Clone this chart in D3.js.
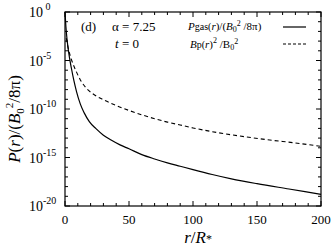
<!DOCTYPE html>
<html><head><meta charset="utf-8">
<script src="https://cdn.jsdelivr.net/npm/d3@7"></script>
<style>body{margin:0;background:#fff}svg{display:block}text{font-family:"Liberation Serif","Times New Roman",serif;fill:#000}</style>
</head><body>
<svg id="c" width="336" height="252"></svg>
<script>
// Data (log10 of values)
const gasR     = [0, 0.7, 1.5, 2.5, 3.5, 5, 7, 9, 12, 15, 19, 24, 30, 36, 43, 50, 60, 70, 80, 90, 100, 115, 130, 150, 175, 200];
const gasLog10 = [0, -1.5, -2.7, -3.8, -4.7, -5.8, -7.1, -8.2, -9.5, -10.4, -11.3, -12.0, -12.7, -13.2, -13.7, -14.1, -14.7, -15.15, -15.55, -15.9, -16.25, -16.75, -17.2, -17.7, -18.25, -18.8];
const bpR      = [1, 2, 3, 5, 7, 9, 12, 17, 22, 30, 40, 50, 60, 70, 80, 90, 100, 120, 140, 160, 180, 200];
const bpLog10  = [-2.7, -3.4, -4.0, -4.9, -5.6, -6.2, -7.0, -7.9, -8.45, -9.05, -9.65, -10.15, -10.6, -11.0, -11.35, -11.65, -11.95, -12.45, -12.85, -13.2, -13.5, -13.85];
const xTicks = [0, 50, 100, 150, 200];
const yTickExp = [0, -5, -10, -15, -20];

const svg = d3.select("#c");
const L = 65, R = 321, T = 12, B = 206;
const x = d3.scaleLinear().domain([0, 200]).range([L, R]);
const y = d3.scaleLog().domain([1e-20, 1]).range([B, T]);

// axes ticks
const g = svg.append("g").attr("stroke", "#000").attr("stroke-width", 1);
d3.range(0, 201, 10).forEach(v => {
  const len = xTicks.includes(v) ? 5 : 3;
  g.append("line").attr("x1", x(v)).attr("x2", x(v)).attr("y1", B).attr("y2", B - len);
  g.append("line").attr("x1", x(v)).attr("x2", x(v)).attr("y1", T).attr("y2", T + len);
});
d3.range(0, -21, -1).forEach(e => {
  const len = yTickExp.includes(e) ? 5 : 3;
  const yy = y(Math.pow(10, e));
  g.append("line").attr("x1", L).attr("x2", L + len).attr("y1", yy).attr("y2", yy);
  g.append("line").attr("x1", R).attr("x2", R - len).attr("y1", yy).attr("y2", yy);
});
svg.append("rect").attr("x", L).attr("y", T).attr("width", R - L).attr("height", B - T)
  .attr("fill", "none").attr("stroke", "#000").attr("stroke-width", 1.2);

// tick labels
xTicks.forEach(v => {
  svg.append("text").attr("x", x(v)).attr("y", 224).attr("text-anchor", "middle")
    .attr("font-size", 13).text(v);
});
yTickExp.forEach(e => {
  const yy = y(Math.pow(10, e));
  const t = svg.append("text").attr("x", 29).attr("y", yy + 5).attr("font-size", 14);
  t.append("tspan").text("10");
  t.append("tspan").attr("dy", -7).attr("font-size", 10).text(e === 0 ? "\u00a00" : e);
});

// axis titles
const xt = svg.append("text").attr("x", 198).attr("y", 243).attr("text-anchor", "middle").attr("font-size", 17);
xt.append("tspan").attr("font-style", "italic").text("r");
xt.append("tspan").text("/");
xt.append("tspan").attr("font-style", "italic").text("R");
xt.append("tspan").attr("font-size", 12).text("*");

const yt = svg.append("text").attr("transform", "translate(20,119) rotate(-90)")
  .attr("text-anchor", "middle").attr("font-size", 17);
yt.append("tspan").attr("font-style", "italic").text("P");
yt.append("tspan").text("(");
yt.append("tspan").attr("font-style", "italic").text("r");
yt.append("tspan").text(")/(");
yt.append("tspan").attr("font-style", "italic").text("B");
yt.append("tspan").attr("font-size", 11).attr("dy", 4).text("0");
yt.append("tspan").attr("font-size", 11).attr("dy", -11).text("2");
yt.append("tspan").attr("dy", 7).text("/8\u03c0)");

// curves
const line = d3.line().x(d => x(d[0])).y(d => y(Math.pow(10, d[1]))).curve(d3.curveMonotoneX);
svg.append("path").datum(gasR.map((r, i) => [r, gasLog10[i]]))
  .attr("d", line).attr("fill", "none").attr("stroke", "#000").attr("stroke-width", 1.2);
svg.append("path").datum(bpR.map((r, i) => [r, bpLog10[i]]))
  .attr("d", line).attr("fill", "none").attr("stroke", "#000").attr("stroke-width", 1.1)
  .attr("stroke-dasharray", "4,3");

// annotations
svg.append("text").attr("x", 81).attr("y", 31).attr("font-size", 13).text("(d)");
svg.append("text").attr("x", 112).attr("y", 31).attr("font-size", 13).text("\u03b1 = 7.25");
const tt = svg.append("text").attr("x", 115).attr("y", 48).attr("font-size", 13);
tt.append("tspan").attr("font-style", "italic").text("t");
tt.append("tspan").text(" = 0");

// legend
const l1 = svg.append("text").attr("x", 188).attr("y", 30).attr("font-size", 11);
l1.append("tspan").attr("font-style", "italic").text("P");
l1.append("tspan").attr("font-size", 10).text("gas(");
l1.append("tspan").attr("font-style", "italic").text("r");
l1.append("tspan").text(")/(");
l1.append("tspan").attr("font-style", "italic").text("B");
l1.append("tspan").attr("font-size", 8).attr("dy", 2).text("0");
l1.append("tspan").attr("font-size", 8).attr("dy", -6).text("2");
l1.append("tspan").attr("dy", 4).text(" /8\u03c0)");
svg.append("line").attr("x1", 283).attr("x2", 306).attr("y1", 27).attr("y2", 27)
  .attr("stroke", "#000").attr("stroke-width", 1.2);

const l2 = svg.append("text").attr("x", 190).attr("y", 48).attr("font-size", 11);
l2.append("tspan").attr("font-style", "italic").text("B");
l2.append("tspan").attr("font-size", 10).text("p(");
l2.append("tspan").attr("font-style", "italic").text("r");
l2.append("tspan").text(")");
l2.append("tspan").attr("font-size", 8).attr("dy", -5).text("2");
l2.append("tspan").attr("dy", 5).text(" /B");
l2.append("tspan").attr("font-size", 8).attr("dy", 2).text("0");
l2.append("tspan").attr("font-size", 8).attr("dy", -6).text("2");
svg.append("line").attr("x1", 283).attr("x2", 306).attr("y1", 44).attr("y2", 44)
  .attr("stroke", "#000").attr("stroke-width", 1.1).attr("stroke-dasharray", "3,2");
</script>
</body></html>
